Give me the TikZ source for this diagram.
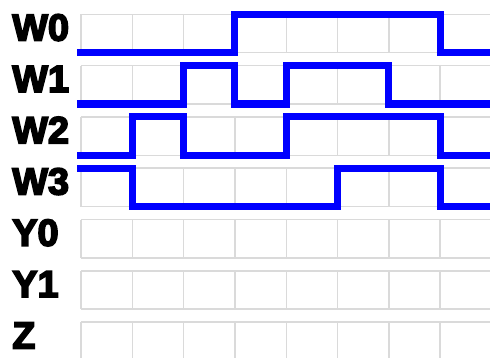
\documentclass[tikz,border=0pt]{standalone}
\usepackage{fontspec}
\newfontfamily\sigfont{Liberation Sans Bold}[FakeBold=4.5]
\definecolor{gridgray}{RGB}{218,218,218}
\definecolor{wireblue}{RGB}{0,0,255}

\begin{document}
\begin{tikzpicture}[x=0.02cm, y=-0.02cm,
  cell/.style={draw=gridgray, line width=0.8pt},
  wave/.style={draw=wireblue, line width=4pt, line cap=rect, line join=miter},
  siglabel/.style={anchor=base west, inner sep=0pt, font=\sigfont\fontsize{21.5}{21.5}\selectfont}]
  \useasboundingbox (0,0) rectangle (490,358);
  \clip (0,0) rectangle (490,358);
  % rows of cells with their labels
  \foreach \name [count=\i from 0] in {W0,W1,W2,W3,Y0,Y1,Z} {
    \pgfmathsetmacro\rowtop{14.3+51.3*\i}
    \node[siglabel] (lbl\name) at (12,\rowtop+26.3) {\name};
    \foreach \c in {0,...,8}
      \draw[cell] ({81+51.3*\c},\rowtop) -- ++(0,38.4);
    \draw[cell] (81,\rowtop) -- ++(420,0) (81,\rowtop+38.4) -- ++(420,0);
  }
  % input waveforms W0..W3
  \foreach \first/\bits [count=\i from 0] in {0/{0,0,0,1,1,1,1,0}, 0/{0,0,1,0,1,1,0,0},
                                               0/{0,1,0,0,1,1,1,0}, 1/{1,0,0,0,0,1,1,0}} {
    \pgfmathsetmacro\rowtop{14.3+51.3*\i}
    \draw[wave] (81,{\rowtop+38.4*(1-\first)})
      foreach \b [count=\c from 0] in \bits {
        -- ({81+51.3*\c},{\rowtop+38.4*(1-\b)}) -- ({81+51.3*(\c+1)},{\rowtop+38.4*(1-\b)})
      };
  }
\end{tikzpicture}
\end{document}
